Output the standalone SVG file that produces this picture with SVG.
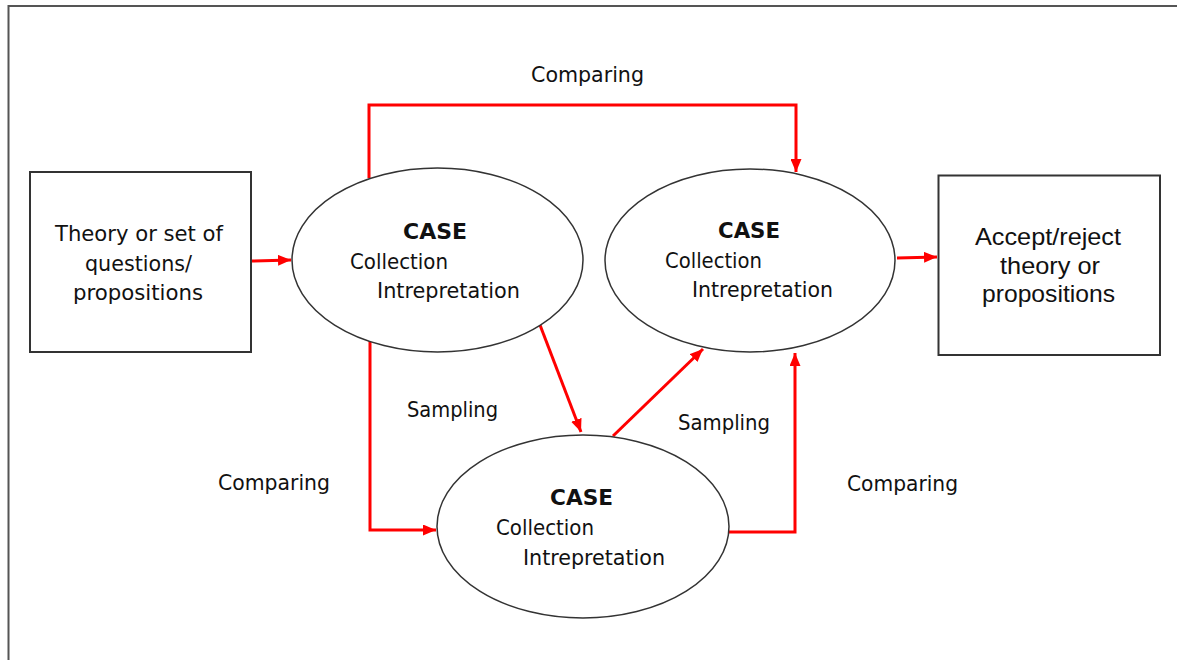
<svg xmlns="http://www.w3.org/2000/svg" width="1177" height="660" viewBox="0 0 1177 660">
<defs>
<marker id="arr" viewBox="0 0 13 11" refX="13" refY="5.5" markerWidth="13" markerHeight="11" markerUnits="userSpaceOnUse" orient="auto">
<path d="M0,0 L13,5.5 L0,11 z" fill="#ff0000"/>
</marker>
<style>
.t{font-family:"DejaVu Sans Condensed","DejaVu Sans",sans-serif;font-stretch:condensed;font-size:22px;fill:#111}
.b{font-weight:bold}
.a{font-family:"Liberation Sans",Arial,sans-serif;font-size:24px;fill:#111}
.box{fill:#fff;stroke:#333;stroke-width:2}
.ell{fill:#fff;stroke:#333;stroke-width:1.5}
.c{fill:none;stroke:#ff0000;stroke-width:3;marker-end:url(#arr)}
</style>
</defs>
<rect width="1177" height="660" fill="#fff"/>
<path d="M8.5,660 V6 H1177" fill="none" stroke="#555" stroke-width="2"/>

<g id="connectors">
<path class="c" d="M369,178 V105 H796 V172"/>
<path class="c" d="M252,261 L291,260"/>
<path class="c" d="M370,340 V530 H436"/>
<path class="c" d="M540,325 L581,432"/>
<path class="c" d="M613,436 L703,349"/>
<path class="c" d="M728,532 H795 V353"/>
<path class="c" d="M897,258 L937,257"/>
<text class="t" x="531" y="82" textLength="113" lengthAdjust="spacingAndGlyphs">Comparing</text>
<text class="t" x="407" y="417" textLength="91" lengthAdjust="spacingAndGlyphs">Sampling</text>
<text class="t" x="678" y="430" textLength="92" lengthAdjust="spacingAndGlyphs">Sampling</text>
<text class="t" x="218" y="490" textLength="112" lengthAdjust="spacingAndGlyphs">Comparing</text>
<text class="t" x="847" y="491" textLength="111" lengthAdjust="spacingAndGlyphs">Comparing</text>
</g>

<g id="theory">
<rect class="box" x="30" y="172" width="221" height="180"/>
<text class="t" x="55" y="241" textLength="168" lengthAdjust="spacingAndGlyphs">Theory or set of</text>
<text class="t" x="85" y="271" textLength="107" lengthAdjust="spacingAndGlyphs">questions/</text>
<text class="t" x="73" y="300" textLength="130" lengthAdjust="spacingAndGlyphs">propositions</text>
</g>

<g id="case1">
<ellipse class="ell" cx="437.5" cy="260" rx="145.5" ry="92"/>
<text class="t b" x="403" y="239" textLength="64" lengthAdjust="spacingAndGlyphs">CASE</text>
<text class="t" x="350" y="269" textLength="98" lengthAdjust="spacingAndGlyphs">Collection</text>
<text class="t" x="377" y="298" textLength="143" lengthAdjust="spacingAndGlyphs">Intrepretation</text>
</g>

<g id="case2">
<ellipse class="ell" cx="750" cy="260.5" rx="145" ry="91.5"/>
<text class="t b" x="718" y="238" textLength="62" lengthAdjust="spacingAndGlyphs">CASE</text>
<text class="t" x="665" y="268" textLength="97" lengthAdjust="spacingAndGlyphs">Collection</text>
<text class="t" x="692" y="297" textLength="141" lengthAdjust="spacingAndGlyphs">Intrepretation</text>
</g>

<g id="case3">
<ellipse class="ell" cx="583" cy="526.5" rx="146" ry="91.5"/>
<text class="t b" x="550" y="505" textLength="63" lengthAdjust="spacingAndGlyphs">CASE</text>
<text class="t" x="496" y="535" textLength="98" lengthAdjust="spacingAndGlyphs">Collection</text>
<text class="t" x="523" y="565" textLength="142" lengthAdjust="spacingAndGlyphs">Intrepretation</text>
</g>

<g id="accept">
<rect class="box" x="938.5" y="175.5" width="221.5" height="179.5"/>
<text class="a" x="975" y="245" textLength="146" lengthAdjust="spacingAndGlyphs">Accept/reject</text>
<text class="a" x="1000" y="274" textLength="100" lengthAdjust="spacingAndGlyphs">theory or</text>
<text class="a" x="982" y="302" textLength="133" lengthAdjust="spacingAndGlyphs">propositions</text>
</g>
</svg>
